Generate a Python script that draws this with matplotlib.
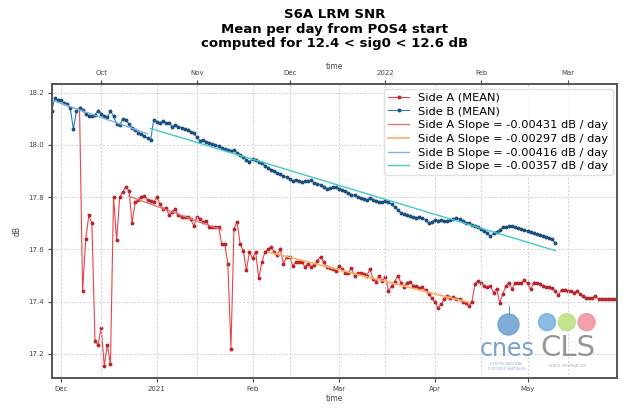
import numpy as np
import pandas as pd
import matplotlib
matplotlib.use("Agg")
import matplotlib.pyplot as plt
import matplotlib.dates as mdates
from matplotlib.ticker import FuncFormatter

# Side A : moyenne journaliere (axe du bas), a partir du 2020-12-07
side_a_start = "2020-12-07"
side_a_snr = [
    18.14, 17.44, 17.64, 17.73, 17.70, 17.25, 17.235, 17.30, 17.155, 17.235,
    17.16, 17.80, 17.635, 17.80, 17.82, 17.84, 17.825, 17.70, 17.78, 17.79,
    17.80, 17.805, 17.79, 17.785, 17.78, 17.80, 17.775, 17.755, 17.76, 17.73,
    17.745, 17.755, 17.73, 17.725, 17.725, 17.725, 17.715, 17.69, 17.725, 17.715,
    17.705, 17.71, 17.687, 17.687, 17.687, 17.687, 17.62, 17.62, 17.546, 17.22,
    17.68, 17.705, 17.62, 17.595, 17.52, 17.59, 17.567, 17.59, 17.49, 17.55,
    17.59, 17.60, 17.61, 17.59, 17.58, 17.60, 17.546, 17.57, 17.572, 17.537,
    17.55, 17.55, 17.55, 17.533, 17.546, 17.533, 17.54, 17.557, 17.572, 17.55,
    17.533, 17.528, 17.525, 17.518, 17.537, 17.525, 17.51, 17.51, 17.528, 17.50,
    17.51, 17.51, 17.505, 17.50, 17.525, 17.486, 17.477, 17.50, 17.48, 17.495,
    17.44, 17.46, 17.477, 17.50, 17.473, 17.456, 17.473, 17.477, 17.46, 17.46,
    17.454, 17.455, 17.444, 17.43, 17.415, 17.40, 17.377, 17.39, 17.41, 17.42,
    17.415, 17.418, 17.41, 17.41, 17.40, 17.396, 17.383, 17.40, 17.467, 17.48,
    17.47, 17.46, 17.455, 17.46, 17.435, 17.45, 17.396, 17.43, 17.46, 17.473,
    17.447, 17.473, 17.47, 17.473, 17.482, 17.47, 17.447, 17.473, 17.47, 17.468,
    17.46, 17.458, 17.455, 17.452, 17.44, 17.426, 17.445, 17.444, 17.44, 17.44,
    17.435, 17.44, 17.43, 17.42, 17.415, 17.415, 17.415, 17.42, 17.41, 17.41,
    17.41, 17.41, 17.41, 17.41,
]

# Side B : moyenne journaliere (axe du haut), a partir du 2021-09-15
side_b_start = "2021-09-15"
side_b_snr = [
    18.13, 18.18, 18.17, 18.17, 18.16, 18.155, 18.14, 18.06, 18.13, 18.14,
    18.135, 18.12, 18.11, 18.11, 18.115, 18.13, 18.12, 18.11, 18.105, 18.13,
    18.11, 18.08, 18.075, 18.10, 18.095, 18.08, 18.065, 18.057, 18.047, 18.04,
    18.035, 18.025, 18.018, 18.095, 18.088, 18.085, 18.09, 18.082, 18.085, 18.07,
    18.077, 18.07, 18.066, 18.062, 18.058, 18.05, 18.044, 18.03, 18.015, 18.02,
    18.012, 18.008, 18.003, 18.0, 17.995, 17.99, 17.985, 17.982, 17.978, 17.98,
    17.97, 17.962, 17.952, 17.944, 17.936, 17.945, 17.942, 17.936, 17.93, 17.92,
    17.912, 17.905, 17.90, 17.892, 17.888, 17.88, 17.876, 17.87, 17.862, 17.866,
    17.86, 17.858, 17.862, 17.86, 17.864, 17.855, 17.85, 17.848, 17.838, 17.832,
    17.836, 17.838, 17.84, 17.832, 17.826, 17.822, 17.815, 17.81, 17.808, 17.80,
    17.795, 17.793, 17.79, 17.795, 17.79, 17.785, 17.783, 17.78, 17.785, 17.78,
    17.775, 17.762, 17.752, 17.74, 17.735, 17.732, 17.728, 17.725, 17.722, 17.724,
    17.72, 17.714, 17.70, 17.705, 17.712, 17.71, 17.712, 17.71, 17.708, 17.712,
    17.715, 17.72, 17.716, 17.71, 17.703, 17.70, 17.695, 17.688, 17.685, 17.678,
    17.67, 17.662, 17.65, 17.662, 17.668, 17.675, 17.684, 17.686, 17.688, 17.69,
    17.685, 17.682, 17.678, 17.675, 17.67, 17.665, 17.662, 17.66, 17.657, 17.653,
    17.648, 17.644, 17.638, 17.625,
]

# pentes affichees (dB / jour) et periodes de regression
slope_a1, fit_a1 = -0.00431, ("2020-12-23", "2021-01-22")
slope_a2, fit_a2 = -0.00297, ("2021-02-06", "2021-04-12")
slope_b1, fit_b1 = -0.00416, ("2021-09-15", "2021-10-16")
slope_b2, fit_b2 = -0.00357, ("2021-10-17", "2022-02-25")

xlim_a = ("2020-11-28", "2021-05-30")
xlim_b = ("2021-09-15", "2022-03-17")


def fit_line(dates, values, period, slope):
    # droite de pente imposee passant par le barycentre de la periode
    s = pd.Series(values, index=dates)
    seg = s[period[0]:period[1]]
    t = mdates.date2num(seg.index.to_pydatetime())
    b = np.mean(seg.values - slope * t)
    t_end = np.array([t[0], t[-1]])
    return mdates.num2date(t_end), slope * t_end + b


def month_fmt(x, pos):
    d = mdates.num2date(x)
    return str(d.year) if d.month == 1 else d.strftime("%b")


dates_a = pd.date_range(side_a_start, periods=len(side_a_snr), freq="D")
dates_b = pd.date_range(side_b_start, periods=len(side_b_snr), freq="D")

fig = plt.figure(figsize=(6.31, 4.09), dpi=100)
ax = fig.add_axes([0.082, 0.0758, 0.896, 0.7188])
ax2 = ax.twiny()

red, red_dark = "#e8434a", "#b8252c"
blue, blue_dark = "#2b7bba", "#1c4f7e"

l_a, = ax.plot(dates_a, side_a_snr, color=red, lw=0.8, marker="o", ms=1.8,
               mfc=red_dark, mec=red_dark, label="Side A (MEAN)")
xa1, ya1 = fit_line(dates_a, side_a_snr, fit_a1, slope_a1)
xa2, ya2 = fit_line(dates_a, side_a_snr, fit_a2, slope_a2)
f_a1, = ax.plot(xa1, ya1, color="#e57373", lw=1.0,
                label=f"Side A Slope = {slope_a1:.5f} dB / day")
f_a2, = ax.plot(xa2, ya2, color="#ffae5c", lw=1.2,
                label=f"Side A Slope = {slope_a2:.5f} dB / day")

l_b, = ax2.plot(dates_b, side_b_snr, color=blue, lw=0.8, marker="o", ms=1.8,
                mfc=blue_dark, mec=blue_dark, label="Side B (MEAN)")
xb1, yb1 = fit_line(dates_b, side_b_snr, fit_b1, slope_b1)
xb2, yb2 = fit_line(dates_b, side_b_snr, fit_b2, slope_b2)
f_b1, = ax2.plot(xb1, yb1, color="#7fb2e0", lw=1.0,
                 label=f"Side B Slope = {slope_b1:.5f} dB / day")
f_b2, = ax2.plot(xb2, yb2, color="#45c9c9", lw=1.0,
                 label=f"Side B Slope = {slope_b2:.5f} dB / day")

ax.set_xlim(pd.Timestamp(xlim_a[0]), pd.Timestamp(xlim_a[1]))
ax2.set_xlim(pd.Timestamp(xlim_b[0]), pd.Timestamp(xlim_b[1]))
ax.set_ylim(17.108, 18.233)
ax.set_yticks([17.2, 17.4, 17.6, 17.8, 18.0, 18.2])

for a in (ax, ax2):
    a.xaxis.set_major_locator(mdates.MonthLocator())
    a.xaxis.set_major_formatter(FuncFormatter(month_fmt))
    a.tick_params(labelsize=5, colors="#444444", length=3, width=0.8, pad=2.5)
    a.grid(True, axis="x", color="#cccccc", ls="--", lw=0.7, dashes=(2, 2))
    for sp in a.spines.values():
        sp.set_color("#555555")
        sp.set_linewidth(1.2)
ax.grid(True, axis="y", color="#cccccc", ls="--", lw=0.7, dashes=(2, 2))

ax.set_xlabel("time", fontsize=5.5, color="#444444", labelpad=2)
ax2.set_xlabel("time", fontsize=5.5, color="#444444", labelpad=1)
ax.set_ylabel("dB", fontsize=5.5, color="#444444", labelpad=5)

fig.text(0.53, 1 - 8 / 409,
         "S6A LRM SNR\nMean per day from POS4 start\ncomputed for 12.4 < sig0 < 12.6 dB",
         ha="center", va="top", fontsize=9.5, fontweight="bold", linespacing=1.15)

ax2.legend(handles=[l_a, l_b, f_a1, f_a2, f_b1, f_b2], loc="upper right",
           fontsize=8.2, framealpha=0.9, edgecolor="#dddddd",
           borderaxespad=0.4, handlelength=1.9, labelspacing=0.33,
           borderpad=0.35)

# logos CNES / CLS (approximation)
tr = ax.transAxes
ax2.plot([0.809, 0.809], [0.21, 0.245], color="#6a9fd0", lw=0.8, transform=tr, zorder=5)
ax2.scatter([0.807], [0.185], s=230, color="#6a9fd0", alpha=0.85, transform=tr, zorder=5)
ax2.text(0.805, 0.1, "cnes", transform=tr, ha="center", va="center",
         fontsize=17, color="#6b98c9", alpha=0.9, zorder=5)
ax2.text(0.805, 0.04, "CENTRE NATIONAL\nD'ÉTUDES SPATIALES", transform=tr,
         ha="center", va="center", fontsize=2.5, color="#8fb0d6", zorder=5)
ax2.text(0.913, 0.102, "CLS", transform=tr, ha="center", va="center",
         fontsize=21, color="#8a8a8a", alpha=0.9, zorder=5)
ax2.text(0.913, 0.04, "SPACE OBSERVATION", transform=tr, ha="center", va="center",
         fontsize=2.5, color="#b0b0b0", zorder=5)
ax2.scatter([0.876, 0.911, 0.946], [0.19, 0.19, 0.19], s=150,
            color=["#7ab0e0", "#b8e07a", "#f0909a"], alpha=0.85, transform=tr, zorder=5)

fig.savefig("out.png", dpi=100)
